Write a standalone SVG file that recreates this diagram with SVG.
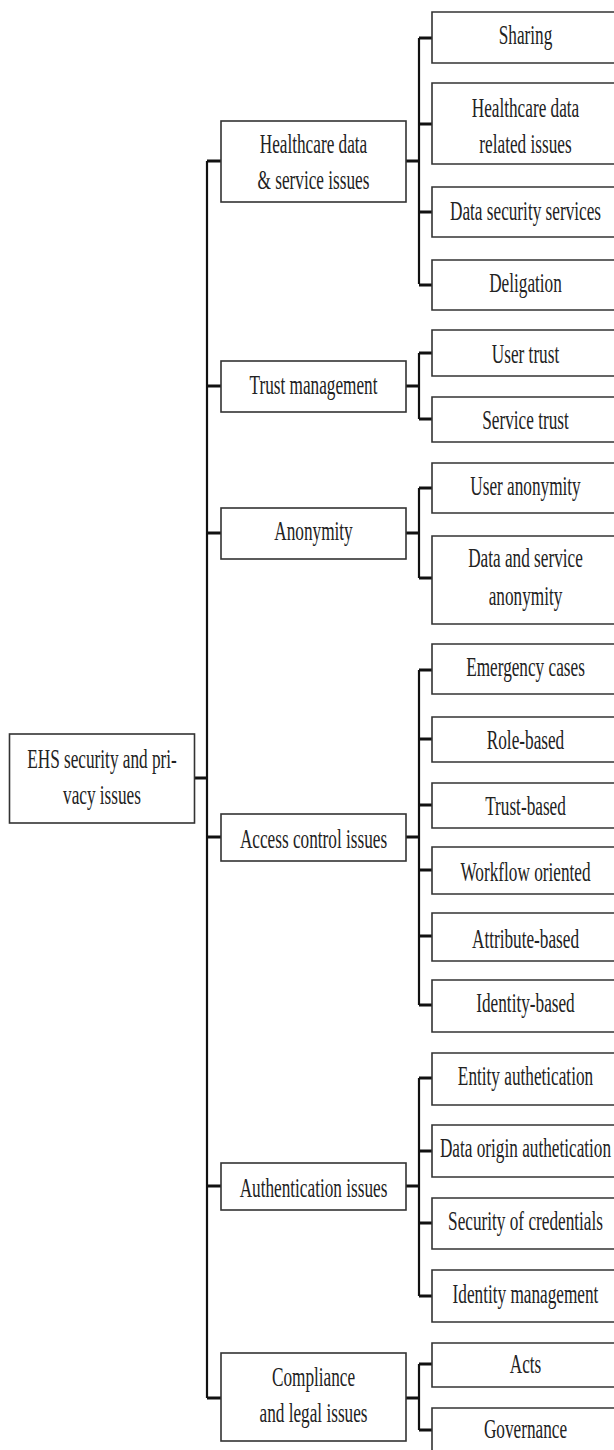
<svg xmlns="http://www.w3.org/2000/svg" width="614" height="1450" viewBox="0 0 614 1450">
<style>
.box{fill:#fff;stroke:#333;stroke-width:1.6}
.t{font-family:"Liberation Serif","Times New Roman",serif;font-size:28px;fill:#222;text-anchor:middle}
.v{stroke:#111;stroke-width:2.2;fill:none}
.h{stroke:#111;stroke-width:3;fill:none}
</style>
<rect width="614" height="1450" fill="#fff"/>
<g id="connectors">
<path class="v" d="M207 161V1398M419 38V284M419 353V419M419 488V578M419 670V1005M419 1078V1296M419 1364V1430"/>
<path class="h" d="M195 778H207M207 161H221M207 386H221M207 533H221M207 837H221M207 1186H221M207 1398H221M406 161H419M406 386H419M406 533H419M406 837H419M406 1186H419M406 1398H419M419 38H432M419 124H432M419 212H432M419 285H432M419 353H432M419 419H432M419 488H432M419 578H432M419 670H432M419 739H432M419 805H432M419 870H432M419 936H432M419 1005H432M419 1078H432M419 1151H432M419 1223H432M419 1296H432M419 1364H432M419 1430H432"/>
</g>
<g id="root"><rect class="box" x="9.5" y="734" width="185" height="89"/><text class="t" transform="matrix(.615 0 0 1 102 768)">EHS security and pri-</text><text class="t" transform="matrix(.615 0 0 1 102 804)">vacy issues</text></g>
<g id="n-healthcare"><rect class="box" x="221" y="121" width="185" height="81"/><text class="t" transform="matrix(.615 0 0 1 313.5 153)">Healthcare data</text><text class="t" transform="matrix(.615 0 0 1 313.5 189)">&amp; service issues</text></g>
<g id="n-trust"><rect class="box" x="221" y="361" width="185" height="51"/><text class="t" transform="matrix(.615 0 0 1 313.5 394)">Trust management</text></g>
<g id="n-anonymity"><rect class="box" x="221" y="508" width="185" height="51"/><text class="t" transform="matrix(.615 0 0 1 313.5 540)">Anonymity</text></g>
<g id="n-access"><rect class="box" x="221" y="814" width="185" height="47"/><text class="t" transform="matrix(.615 0 0 1 313.5 848)">Access control issues</text></g>
<g id="n-auth"><rect class="box" x="221" y="1163" width="185" height="47"/><text class="t" transform="matrix(.615 0 0 1 313.5 1197)">Authentication issues</text></g>
<g id="n-compliance"><rect class="box" x="221" y="1353" width="185" height="88"/><text class="t" transform="matrix(.615 0 0 1 313.5 1386)">Compliance</text><text class="t" transform="matrix(.615 0 0 1 313.5 1422)">and legal issues</text></g>
<g id="c-sharing"><path class="box" d="M614 12H432V63H614"/><text class="t" transform="matrix(.615 0 0 1 525.5 44)">Sharing</text></g>
<g id="c-hdri"><path class="box" d="M614 83H432V164H614"/><text class="t" transform="matrix(.615 0 0 1 525.5 117)">Healthcare data</text><text class="t" transform="matrix(.615 0 0 1 525.5 153)">related issues</text></g>
<g id="c-dss"><path class="box" d="M614 187H432V237H614"/><text class="t" transform="matrix(.615 0 0 1 525.5 220)">Data security services</text></g>
<g id="c-deligation"><path class="box" d="M614 260H432V310H614"/><text class="t" transform="matrix(.615 0 0 1 525.5 292)">Deligation</text></g>
<g id="c-usertrust"><path class="box" d="M614 330H432V376H614"/><text class="t" transform="matrix(.615 0 0 1 525.5 363)">User trust</text></g>
<g id="c-servicetrust"><path class="box" d="M614 397H432V442H614"/><text class="t" transform="matrix(.615 0 0 1 525.5 429)">Service trust</text></g>
<g id="c-useranon"><path class="box" d="M614 463H432V513H614"/><text class="t" transform="matrix(.615 0 0 1 525.5 495)">User anonymity</text></g>
<g id="c-dsanon"><path class="box" d="M614 536H432V624H614"/><text class="t" transform="matrix(.615 0 0 1 525.5 567)">Data and service</text><text class="t" transform="matrix(.615 0 0 1 525.5 605)">anonymity</text></g>
<g id="c-emergency"><path class="box" d="M614 644H432V694H614"/><text class="t" transform="matrix(.615 0 0 1 525.5 676)">Emergency cases</text></g>
<g id="c-role"><path class="box" d="M614 717H432V762H614"/><text class="t" transform="matrix(.615 0 0 1 525.5 749)">Role-based</text></g>
<g id="c-trustbased"><path class="box" d="M614 783H432V828H614"/><text class="t" transform="matrix(.615 0 0 1 525.5 815)">Trust-based</text></g>
<g id="c-workflow"><path class="box" d="M614 847H432V894H614"/><text class="t" transform="matrix(.615 0 0 1 525.5 881)">Workflow oriented</text></g>
<g id="c-attribute"><path class="box" d="M614 913H432V961H614"/><text class="t" transform="matrix(.615 0 0 1 525.5 948)">Attribute-based</text></g>
<g id="c-identitybased"><path class="box" d="M614 980H432V1032H614"/><text class="t" transform="matrix(.615 0 0 1 525.5 1012)">Identity-based</text></g>
<g id="c-entity"><path class="box" d="M614 1053H432V1105H614"/><text class="t" transform="matrix(.615 0 0 1 525.5 1085)">Entity authetication</text></g>
<g id="c-dataorigin"><path class="box" d="M614 1125H432V1177H614"/><text class="t" transform="matrix(.615 0 0 1 525.5 1157)">Data origin authetication</text></g>
<g id="c-credentials"><path class="box" d="M614 1198H432V1249H614"/><text class="t" transform="matrix(.615 0 0 1 525.5 1230)">Security of credentials</text></g>
<g id="c-idmgmt"><path class="box" d="M614 1270H432V1322H614"/><text class="t" transform="matrix(.615 0 0 1 525.5 1303)">Identity management</text></g>
<g id="c-acts"><path class="box" d="M614 1343H432V1387H614"/><text class="t" transform="matrix(.615 0 0 1 525.5 1373)">Acts</text></g>
<g id="c-governance"><path class="box" d="M614 1408H432V1450"/><text class="t" transform="matrix(.615 0 0 1 525.5 1438)">Governance</text></g>
</svg>
